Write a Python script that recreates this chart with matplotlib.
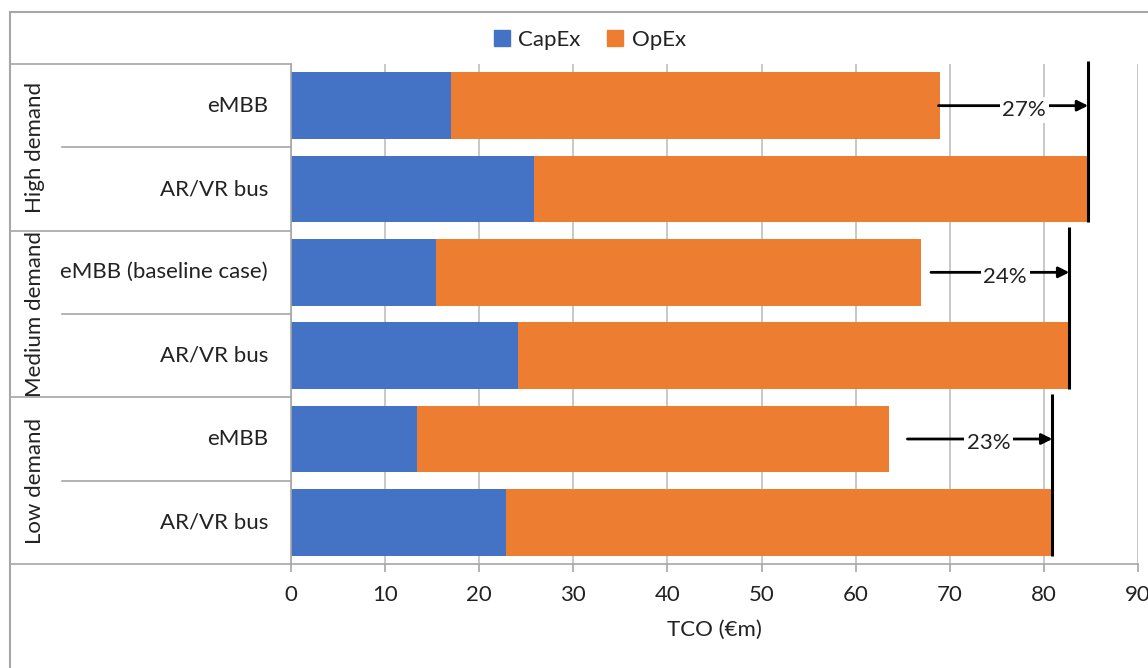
import matplotlib.pyplot as plt
import matplotlib.transforms as mtransforms
from matplotlib.lines import Line2D
from matplotlib.patches import Patch

plt.rcParams['font.family'] = ['Lato', 'DejaVu Sans']

# data
groups = ["High demand", "Medium demand", "Low demand"]
labels = ["eMBB", "AR/VR bus", "eMBB (baseline case)", "AR/VR bus", "eMBB", "AR/VR bus"]
capex = [17.0, 25.8, 15.4, 24.1, 13.4, 22.8]
total = [69.0, 84.7, 66.9, 82.7, 63.5, 80.9]
opex = [t - c for t, c in zip(total, capex)]
gaps = ["27%", "24%", "23%"]
arrow_offset = [-0.2, 1.1, 2.0]   # where the arrow starts, past the eMBB bar

blue = '#4472C4'
orange = '#ED7D31'
txt = '#222222'
grid = '#bfbfbf'
fs = 16
W, H = 1148, 668

fig = plt.figure(figsize=(W / 100, H / 100), dpi=100)
ax = fig.add_axes([291 / W, 1 - 564 / H, 847 / W, 500 / H])

y = list(range(len(labels)))
ax.barh(y, capex, height=0.8, color=blue, zorder=2)
ax.barh(y, opex, left=capex, height=0.8, color=orange, zorder=2)

ax.set_xlim(0, 90)
ax.set_ylim(5.5, -0.5)
ax.set_xticks(range(0, 91, 10))
ax.set_yticks([])
ax.xaxis.grid(True, color=grid, lw=1.2, zorder=0)
for s in ['top', 'right']:
    ax.spines[s].set_visible(False)
ax.spines['left'].set_color('#a6a6a6')
ax.spines['bottom'].set_color('#a6a6a6')
ax.spines['left'].set_linewidth(1.2)
ax.spines['bottom'].set_linewidth(1.2)
ax.tick_params(axis='x', direction='out', length=6, width=1.2, color='#a6a6a6',
               labelsize=fs, labelcolor=txt, pad=9)
ax.set_xlabel("TCO (€m)", fontsize=fs, color=txt, labelpad=11)

# arrows and gap markers
for i, g in enumerate(gaps):
    a, b = 2 * i, 2 * i + 1
    x0 = total[a] + arrow_offset[i]
    x1 = total[b]
    ax.annotate("", xy=(x1, a), xytext=(x0, a),
                arrowprops=dict(arrowstyle='-|>', color='black', lw=2,
                                mutation_scale=16, shrinkA=0, shrinkB=0), zorder=4)
    ax.text(x1 - 6.8, a + 0.05, g, fontsize=fs, color=txt, ha='center', va='center',
            bbox=dict(facecolor='white', edgecolor='none', pad=2), zorder=5)
    ax.plot([x1, x1], [a - 0.54, b + 0.4], color='black', lw=2.2, zorder=6,
            clip_on=False, solid_capstyle='butt')

# category table on the left
tr = mtransforms.blended_transform_factory(fig.transFigure, ax.transData)
for i, lab in enumerate(labels):
    ax.text(268 / W, i, lab, transform=tr, ha='right', va='center',
            fontsize=fs, color=txt)
for k in range(len(groups) + 1):
    yy = 2 * k - 0.5
    fig.add_artist(Line2D([10 / W, 291 / W], [yy, yy], transform=tr,
                          color='#a6a6a6', lw=1.2))
for k in range(len(groups)):
    yy = 2 * k + 0.5
    fig.add_artist(Line2D([62 / W, 291 / W], [yy, yy], transform=tr,
                          color='#a6a6a6', lw=1.2))
    ax.text(35 / W, 2 * k + 0.5, groups[k], transform=tr, rotation=90,
            ha='center', va='center', fontsize=fs, color=txt)

# outer frame
fig.add_artist(Line2D([10 / W, 1], [1 - 12 / H, 1 - 12 / H], color='#a6a6a6', lw=1.5))
fig.add_artist(Line2D([10 / W, 10 / W], [0, 1 - 12 / H], color='#a6a6a6', lw=1.5))

handles = [Patch(color=blue, label='CapEx'), Patch(color=orange, label='OpEx')]
fig.legend(handles=handles, loc='center', bbox_to_anchor=(590 / W, 1 - 40 / H),
           ncol=2, frameon=False, fontsize=fs, handlelength=0.7, handleheight=0.7,
           handletextpad=0.4, columnspacing=1.2, labelcolor=txt)

fig.savefig('out.png', dpi=100)
